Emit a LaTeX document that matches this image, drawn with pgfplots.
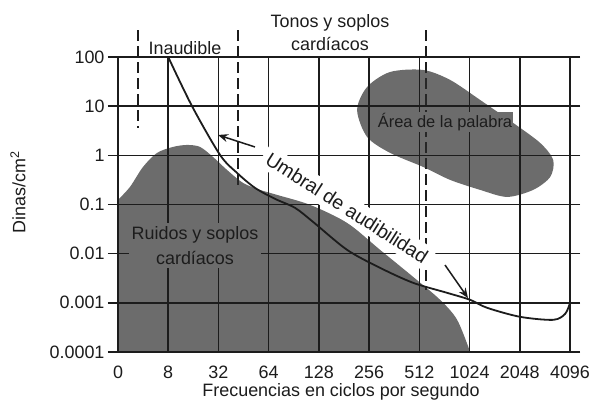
\documentclass[border=0pt]{standalone}
\usepackage{fontspec}
\setmainfont{Liberation Sans}
\usepackage{pgfplots}
\pgfplotsset{compat=1.18}
\usetikzlibrary{arrows.meta}
\definecolor{shade}{RGB}{108,108,108}
\definecolor{shadebase}{RGB}{45,45,45}
\definecolor{ink}{RGB}{28,28,28}
\begin{document}
\begin{tikzpicture}[font=\fontsize{18}{22}\selectfont]
\begin{axis}[
  scale only axis, width=452bp, height=295bp,
  xmin=0, xmax=9, ymin=0, ymax=6, clip=false,
  xtick={0,...,9}, xticklabels={0,8,32,64,128,256,512,1024,2048,4096},
  ytick={0,...,6}, yticklabels={0.0001,0.001,0.01,0.1,1,10,100},
  grid=major, grid style={line width=1.5bp, ink},
  axis line style={line width=1.5bp, ink},
  tick align=outside, major tick length=10bp,
  xtick style={draw=none}, ytick style={line width=1.5bp, ink},
  axis on top,
  /pgf/number format/assume math mode=true,
  ticklabel style={font=\fontsize{18}{22}\selectfont, text=ink},
]
\path (rel axis cs:-0.26106,-0.17288) rectangle (rel axis cs:1.05752,1.19322);
\draw[ink, line width=1.5bp, dash pattern=on 11bp off 5bp] (axis cs:0.40,6.549) -- (axis cs:0.40,4.556);
\draw[ink, line width=1.5bp, dash pattern=on 11bp off 5bp] (axis cs:2.39,6.549) -- (axis cs:2.39,3.356);
\draw[ink, line width=1.5bp, dash pattern=on 11bp off 5bp] (axis cs:6.133,6.549) -- (axis cs:6.133,1.261);
% Ruidos y soplos cardiacos (noise region), translucent so the grid shows through
\addplot[fill=shadebase, fill opacity=0.7, draw=none, smooth] coordinates {
 (0,3.094) (0.239,3.358) (0.498,3.764) (0.777,4.049) (1.096,4.171) (1.375,4.211)
 (1.633,4.171) (1.892,3.967) (2.171,3.703) (2.490,3.439) (2.829,3.297) (3.167,3.195)
 (3.825,2.992) (4.562,2.626) (5.219,2.077) (5.876,1.528) (6.414,1.061) (6.753,0.654) (7.012,0)
} \closedcycle;
% Area de la palabra
\addplot[fill=shadebase, fill opacity=0.7, draw=none, smooth cycle] coordinates {
 (4.761,4.923) (4.960,5.390) (5.418,5.695) (6.076,5.736) (6.614,5.533) (7.211,5.126)
 (7.869,4.659) (8.406,4.252) (8.665,3.907) (8.606,3.561) (8.267,3.297) (7.749,3.154)
 (7.211,3.297) (6.614,3.5) (6.076,3.764) (5.418,4.049) (4.960,4.374)
};
% Umbral de audibilidad
\addplot[ink, line width=1.8bp, smooth, no marks] coordinates {
 (1,6) (1.474,5.0) (2.032,4.008) (2.371,3.642) (2.729,3.337) (3.127,3.114)
 (3.526,2.931) (3.884,2.646) (4.562,2.077) (5.219,1.711) (5.876,1.407) (6.554,1.203)
 (7.012,1.061) (7.351,0.898) (8.008,0.715) (8.665,0.654) (8.904,0.776) (9.0,1.0)
};
\coordinate (inaud) at (axis cs:1.334,6.183);
\coordinate (tonos) at (axis cs:4.221,6.488);
\coordinate (area) at (axis cs:6.511,4.678);
\coordinate (ruidos) at (axis cs:1.533,2.166);
\coordinate (umb) at (axis cs:4.56,2.93);
\coordinate (a1s) at (axis cs:2.728,4.170);
\coordinate (a1e) at (axis cs:1.991,4.414);
\coordinate (a2s) at (axis cs:6.511,1.769);
\coordinate (a2e) at (axis cs:6.969,1.098);
\coordinate (ylab) at (axis cs:-1.991,3.254);
\coordinate (xlab) at (axis cs:4.44,-0.813);
\end{axis}
\node[text=ink] at (inaud) {Inaudible};
\node[text=ink, align=center, font=\fontsize{18}{23}\selectfont] at (tonos) {Tonos y soplos\\cardíacos};
\node[text=ink, fill=shade, inner sep=1bp, font=\fontsize{16.5}{20}\selectfont] at (area) {Área de la palabra};
\node[text=ink, fill=shade, align=center, inner sep=3bp, font=\fontsize{18}{25}\selectfont] at (ruidos) {Ruidos y soplos\\cardíacos};
\node[text=ink, fill=white, rotate=-32.5, inner sep=5bp, font=\fontsize{19.5}{22}\selectfont] at (umb) {Umbral de audibilidad};
\draw[ink, line width=1.5bp, -{Stealth[length=10bp,width=8bp]}] (a1s) -- (a1e);
\draw[ink, line width=1.5bp, -{Stealth[length=10bp,width=8bp]}] (a2s) -- (a2e);
\node[text=ink, rotate=90] at (ylab) {Dinas/cm\textsuperscript{2}};
\node[text=ink] at (xlab) {Frecuencias en ciclos por segundo};
\end{tikzpicture}
\end{document}
